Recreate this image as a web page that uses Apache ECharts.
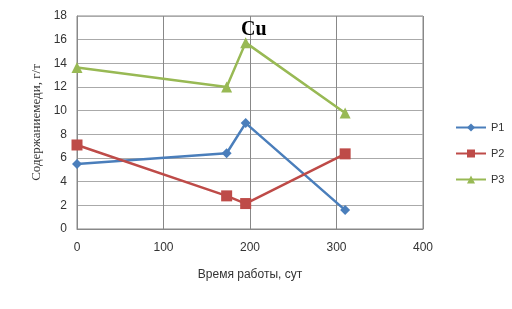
<!DOCTYPE html>
<html>
<head>
<meta charset="utf-8">
<script src="https://cdn.jsdelivr.net/npm/echarts@6/dist/echarts.min.js"></script>
<style>
  html, body { margin: 0; padding: 0; background: #fff; }
  #chart { width: 512px; height: 309px; }
</style>
</head>
<body>
<div id="chart"></div>
<script>
// время работы, сут
const days = [0, 173, 195, 310]
const p1 = [5.5, 6.4, 8.95, 1.6]
const p2 = [7.1, 2.8, 2.15, 6.35]
const p3 = [13.65, 12.0, 15.75, 9.8]
const seriesNames = ['P1', 'P2', 'P3']

const pairs = (ys) => days.map((d, i) => [d, ys[i]])

const myChart = echarts.init(document.getElementById('chart'))
const font = 'Liberation Sans, DejaVu Sans, sans-serif'

function line (name, ys, color, symbol, size) {
  return {
    name: name,
    type: 'line',
    data: pairs(ys),
    symbol: symbol,
    symbolSize: size,
    lineStyle: { color: color, width: 2.5 },
    itemStyle: { color: color },
    animation: false
  }
}

const option = {
  backgroundColor: '#fff',
  title: {
    text: 'Cu',
    left: 236,
    top: 15,
    textStyle: { fontFamily: 'Liberation Serif, DejaVu Serif, serif', fontSize: 20, fontWeight: 'bold', color: '#000' }
  },
  legend: {
    orient: 'vertical',
    left: 450,
    top: 117,
    itemGap: 15,
    itemWidth: 30,
    itemHeight: 10,
    data: seriesNames,
    textStyle: { fontFamily: font, fontSize: 11, color: '#333' }
  },
  grid: { left: 77, right: 89, top: 16, bottom: 80 },
  xAxis: {
    type: 'value',
    min: 0,
    max: 400,
    interval: 100,
    name: 'Время работы, сут',
    nameLocation: 'middle',
    nameGap: 40,
    nameTextStyle: { fontFamily: font, fontSize: 12, color: '#333' },
    axisLine: { show: true, lineStyle: { color: '#888' } },
    axisTick: { show: false },
    axisLabel: { fontFamily: font, fontSize: 12, color: '#333', margin: 13 },
    splitLine: { show: true, lineStyle: { color: '#888' } }
  },
  yAxis: {
    type: 'value',
    min: 0,
    max: 18,
    interval: 2,
    name: 'Содержаниемеди, г/т',
    nameLocation: 'middle',
    nameGap: 34,
    nameTextStyle: { fontFamily: 'Liberation Serif, DejaVu Serif, serif', fontSize: 13, color: '#333' },
    axisLine: { show: true, lineStyle: { color: '#888' } },
    axisTick: { show: false },
    axisLabel: { fontFamily: font, fontSize: 12, color: '#333', margin: 10 },
    splitLine: { show: true, lineStyle: { color: '#aaa' } }
  },
  series: [
    line('P1', p1, '#4a7ebb', 'diamond', 10),
    line('P2', p2, '#be4b48', 'rect', 11),
    line('P3', p3, '#98b954', 'triangle', 11)
  ]
}
myChart.setOption(option)
// рамка области построения сверху и справа
myChart.setOption({
  graphic: [{
    type: 'rect',
    shape: { x: 77, y: 16, width: 346, height: 213 },
    style: { fill: 'none', stroke: '#888', lineWidth: 1 },
    silent: true,
    z: -1
  }]
})
window.addEventListener('resize', function () {
  myChart.resize()
})
</script>
</body>
</html>
